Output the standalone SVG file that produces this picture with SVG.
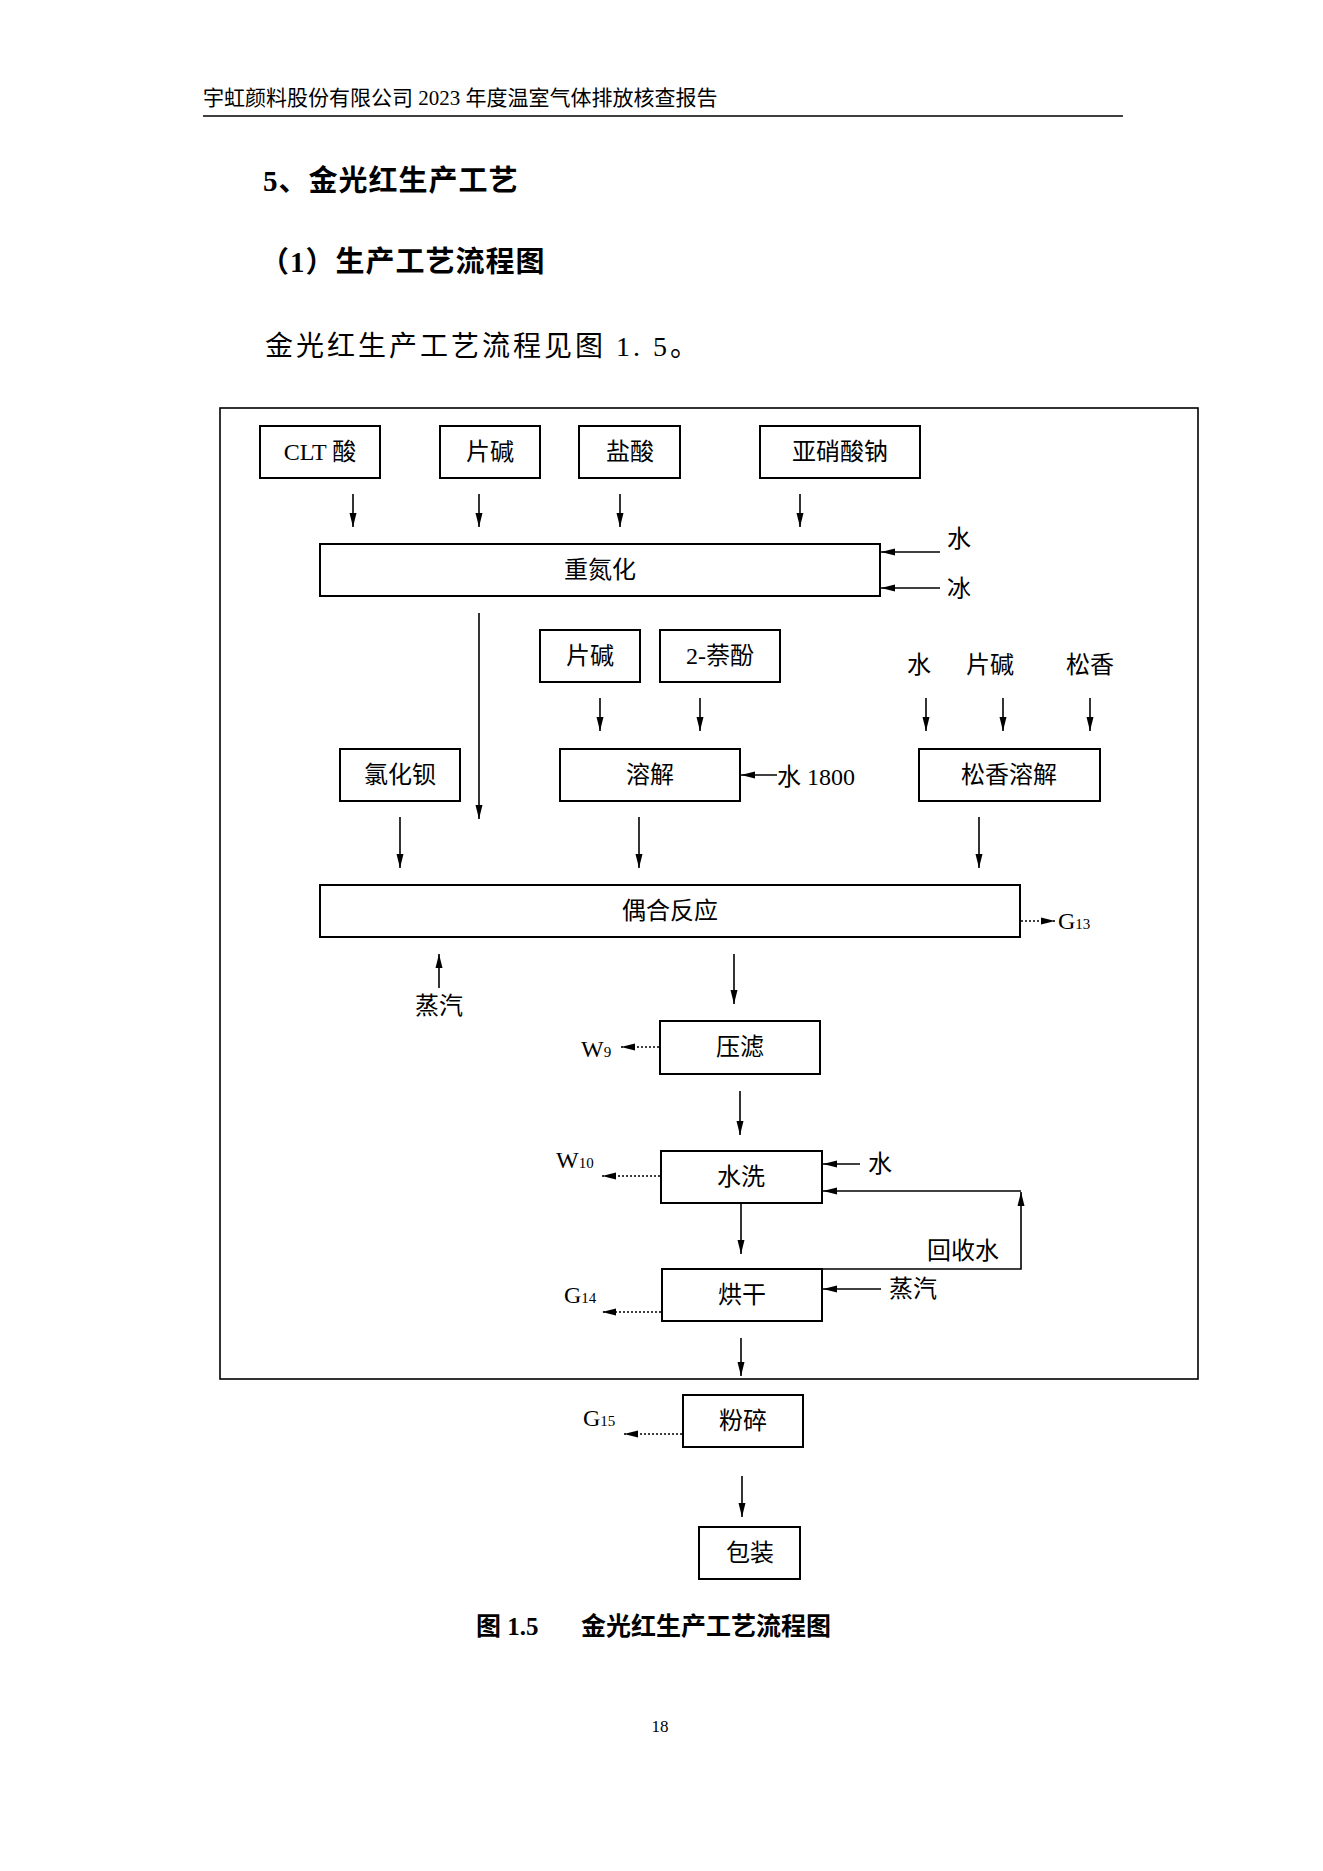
<svg xmlns="http://www.w3.org/2000/svg" width="1323" height="1871" viewBox="0 0 1323 1871">
<style>
text{font-family:"Liberation Serif","Noto Sans CJK SC",serif;fill:#000}
.b{fill:#fff;stroke:#000;stroke-width:2}
.t{font-size:24px;text-anchor:middle;dominant-baseline:central}
.l{font-size:24px;dominant-baseline:central}
.s{font-size:15px}
.c{stroke:#000;stroke-width:1.6;fill:none}
.d{stroke:#000;stroke-width:1.6;fill:none;stroke-dasharray:2 2}
</style>
<defs><marker id="a" viewBox="0 0 14 10" refX="14" refY="5" markerWidth="14" markerHeight="10" markerUnits="userSpaceOnUse" orient="auto"><path d="M0,1.5L14,5L0,8.5z" fill="#000"/></marker></defs>
<rect width="1323" height="1871" fill="#fff"/>
<text x="203" y="98" style="font-size:21px;dominant-baseline:central">宇虹颜料股份有限公司 2023 年度温室气体排放核查报告</text>
<line x1="203" y1="116" x2="1123" y2="116" stroke="#000" stroke-width="1.5"/>
<text x="263" y="181" style="font-size:29px;font-weight:bold;dominant-baseline:central;letter-spacing:1px">5、金光红生产工艺</text>
<text x="260" y="262" style="font-size:29px;font-weight:bold;dominant-baseline:central;letter-spacing:1px">（1）生产工艺流程图</text>
<text x="265" y="346" style="font-size:28px;dominant-baseline:central;letter-spacing:3px">金光红生产工艺流程见图 1. 5。</text>
<rect x="220" y="408" width="978" height="971" fill="none" stroke="#000" stroke-width="1.6"/>
<g id="n1"><rect class="b" x="260" y="426" width="120" height="52"/><text class="t" x="320" y="452">CLT 酸</text></g>
<g id="n2"><rect class="b" x="440" y="426" width="100" height="52"/><text class="t" x="490" y="452">片碱</text></g>
<g id="n3"><rect class="b" x="579" y="426" width="101" height="52"/><text class="t" x="630" y="452">盐酸</text></g>
<g id="n4"><rect class="b" x="760" y="426" width="160" height="52"/><text class="t" x="840" y="452">亚硝酸钠</text></g>
<g id="n5"><rect class="b" x="320" y="544" width="560" height="52"/><text class="t" x="600" y="570">重氮化</text></g>
<g id="n6"><rect class="b" x="540" y="630" width="100" height="52"/><text class="t" x="590" y="656">片碱</text></g>
<g id="n7"><rect class="b" x="660" y="630" width="120" height="52"/><text class="t" x="720" y="656">2-萘酚</text></g>
<g id="n8"><rect class="b" x="340" y="749" width="120" height="52"/><text class="t" x="400" y="775">氯化钡</text></g>
<g id="n9"><rect class="b" x="560" y="749" width="180" height="52"/><text class="t" x="650" y="775">溶解</text></g>
<g id="n10"><rect class="b" x="919" y="749" width="181" height="52"/><text class="t" x="1009" y="775">松香溶解</text></g>
<g id="n11"><rect class="b" x="320" y="885" width="700" height="52"/><text class="t" x="670" y="911">偶合反应</text></g>
<g id="n12"><rect class="b" x="660" y="1021" width="160" height="53"/><text class="t" x="740" y="1047">压滤</text></g>
<g id="n13"><rect class="b" x="661" y="1151" width="161" height="52"/><text class="t" x="741" y="1177">水洗</text></g>
<g id="n14"><rect class="b" x="662" y="1269" width="160" height="52"/><text class="t" x="742" y="1295">烘干</text></g>
<g id="n15"><rect class="b" x="683" y="1395" width="120" height="52"/><text class="t" x="743" y="1421">粉碎</text></g>
<g id="n16"><rect class="b" x="699" y="1527" width="101" height="52"/><text class="t" x="750" y="1553">包装</text></g>
<g id="labels">
<text class="l" x="947" y="539">水</text><text class="l" x="947" y="589">冰</text>
<text class="t" x="919" y="665">水</text><text class="t" x="990" y="665">片碱</text><text class="t" x="1090" y="665">松香</text>
<text class="l" x="777" y="777">水 1800</text>
<text class="t" x="439" y="1006">蒸汽</text>
<text class="l" x="1058" y="921">G<tspan class="s" dy="3">13</tspan></text>
<text class="l" x="581" y="1049">W<tspan class="s" dy="3">9</tspan></text>
<text class="l" x="556" y="1160">W<tspan class="s" dy="3">10</tspan></text>
<text class="l" x="868" y="1164">水</text>
<text class="l" x="927" y="1251">回收水</text>
<text class="l" x="564" y="1295">G<tspan class="s" dy="3">14</tspan></text>
<text class="l" x="889" y="1289">蒸汽</text>
<text class="l" x="583" y="1418">G<tspan class="s" dy="3">15</tspan></text>
</g>
<g id="connectors">
<line class="c" x1="353" y1="494" x2="353" y2="527" marker-end="url(#a)"/>
<line class="c" x1="479" y1="494" x2="479" y2="527" marker-end="url(#a)"/>
<line class="c" x1="620" y1="494" x2="620" y2="527" marker-end="url(#a)"/>
<line class="c" x1="800" y1="494" x2="800" y2="527" marker-end="url(#a)"/>
<line class="c" x1="940" y1="552" x2="881" y2="552" marker-end="url(#a)"/>
<line class="c" x1="940" y1="588" x2="881" y2="588" marker-end="url(#a)"/>
<line class="c" x1="479" y1="613" x2="479" y2="819" marker-end="url(#a)"/>
<line class="c" x1="600" y1="698" x2="600" y2="731" marker-end="url(#a)"/>
<line class="c" x1="700" y1="698" x2="700" y2="731" marker-end="url(#a)"/>
<line class="c" x1="926" y1="698" x2="926" y2="731" marker-end="url(#a)"/>
<line class="c" x1="1003" y1="698" x2="1003" y2="731" marker-end="url(#a)"/>
<line class="c" x1="1090" y1="698" x2="1090" y2="731" marker-end="url(#a)"/>
<line class="c" x1="777" y1="775" x2="741" y2="775" marker-end="url(#a)"/>
<line class="c" x1="400" y1="817" x2="400" y2="868" marker-end="url(#a)"/>
<line class="c" x1="639" y1="817" x2="639" y2="868" marker-end="url(#a)"/>
<line class="c" x1="979" y1="817" x2="979" y2="868" marker-end="url(#a)"/>
<line class="d" x1="1021" y1="921" x2="1055" y2="921" marker-end="url(#a)"/>
<line class="c" x1="439" y1="988" x2="439" y2="954" marker-end="url(#a)"/>
<line class="c" x1="734" y1="954" x2="734" y2="1004" marker-end="url(#a)"/>
<line class="d" x1="659" y1="1047" x2="621" y2="1047" marker-end="url(#a)"/>
<line class="c" x1="740" y1="1091" x2="740" y2="1135" marker-end="url(#a)"/>
<line class="d" x1="660" y1="1176" x2="602" y2="1176" marker-end="url(#a)"/>
<line class="c" x1="860" y1="1164" x2="823" y2="1164" marker-end="url(#a)"/>
<path class="c" d="M822,1269H1021V1192" marker-end="url(#a)"/>
<line class="c" x1="1021" y1="1191" x2="823" y2="1191" marker-end="url(#a)"/>
<line class="c" x1="741" y1="1203" x2="741" y2="1254" marker-end="url(#a)"/>
<line class="d" x1="661" y1="1312" x2="602" y2="1312" marker-end="url(#a)"/>
<line class="c" x1="881" y1="1289" x2="823" y2="1289" marker-end="url(#a)"/>
<line class="c" x1="741" y1="1338" x2="741" y2="1376" marker-end="url(#a)"/>
<line class="d" x1="682" y1="1434" x2="624" y2="1434" marker-end="url(#a)"/>
<line class="c" x1="742" y1="1476" x2="742" y2="1517" marker-end="url(#a)"/>
</g>
<text x="476" y="1626" style="font-size:25px;font-weight:bold;dominant-baseline:central">图 1.5</text>
<text x="581" y="1626" style="font-size:25px;font-weight:bold;dominant-baseline:central">金光红生产工艺流程图</text>
<text x="660" y="1726" style="font-size:17px;text-anchor:middle;dominant-baseline:central">18</text>
</svg>
